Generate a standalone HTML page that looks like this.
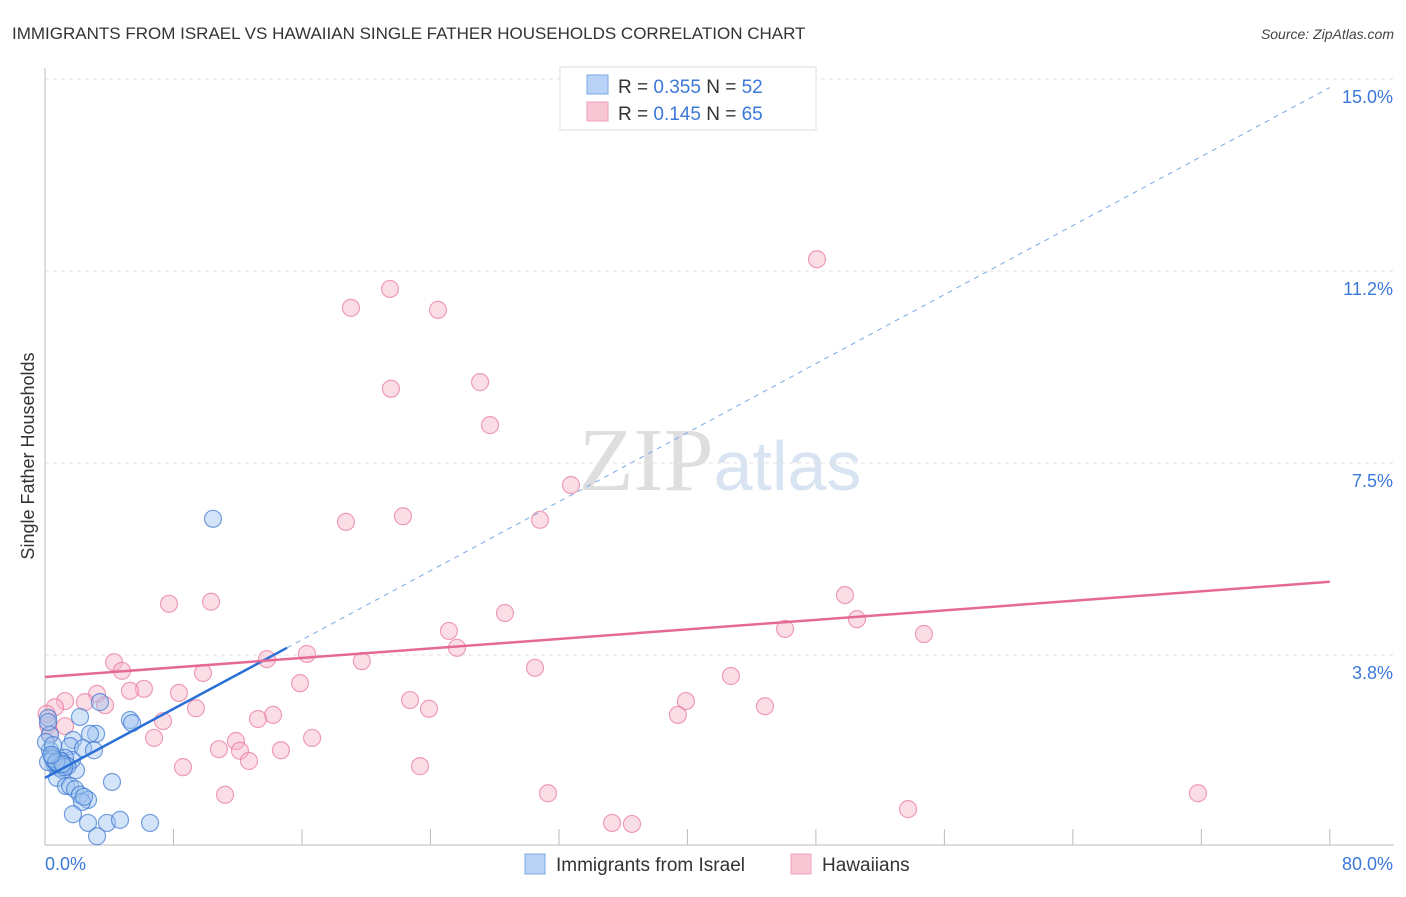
<!DOCTYPE html>
<html><head><meta charset="utf-8"><style>
body{margin:0;background:#fff;font-family:"Liberation Sans",sans-serif;}
svg text{font-family:"Liberation Sans",sans-serif;}
</style></head><body>
<svg id="chart" width="1406" height="892" xmlns="http://www.w3.org/2000/svg">
<text x="12" y="39" font-size="17" fill="#333">IMMIGRANTS FROM ISRAEL VS HAWAIIAN SINGLE FATHER HOUSEHOLDS CORRELATION CHART</text>
<text x="1394" y="39" font-size="14" font-style="italic" fill="#444" text-anchor="end">Source: ZipAtlas.com</text>
<text x="720" y="490" font-size="90" text-anchor="middle" fill="#e8e8e8"><tspan font-family="Liberation Serif" fill="#dedede">ZIP</tspan><tspan fill="#d8e4f2" font-size="70">atlas</tspan></text>
<g id="grid"></g>
<g id="axes"></g>
<g id="pts"></g>
<g id="lines"></g>
<text transform="translate(34,456) rotate(-90)" font-size="18" fill="#333" text-anchor="middle">Single Father Households</text>
<g>
<rect x="560" y="67" width="256" height="63" fill="#fff" stroke="#ddd"/>
<rect x="587" y="75" width="21" height="19" fill="#b8d3f5" stroke="#7aa8e6"/>
<text x="618" y="93" font-size="19" fill="#333">R = <tspan fill="#3b78d8">0.355</tspan>   N = <tspan fill="#3b78d8">52</tspan></text>
<rect x="587" y="102" width="21" height="19" fill="#f9c6d5" stroke="#eea0b8"/>
<text x="618" y="120" font-size="19" fill="#333">R =  <tspan fill="#3b78d8">0.145</tspan>   N = <tspan fill="#3b78d8">65</tspan></text>
</g>
<g>
<rect x="525" y="854" width="20" height="20" fill="#b8d3f5" stroke="#7aa8e6"/>
<text x="556" y="871" font-size="19" fill="#333">Immigrants from Israel</text>
<rect x="791" y="854" width="20" height="20" fill="#f9c6d5" stroke="#eea0b8"/>
<text x="822" y="871" font-size="19" fill="#333">Hawaiians</text>
</g>
</svg>
<script>
const yTicks=[3.75,7.5,11.25,15];
const yTickLabels=["3.8%","7.5%","11.2%","15.0%"];
const xTickCount=10;
const israelX=[10.46,0.19,2.18,3.42,5.29,5.42,3.18,2.8,1.74,1.56,2.37,3.05,0.31,0.31,0.44,0.81,1.06,1.31,0.62,0.93,1.93,1.12,0.75,1.68,4.17,1.31,1.56,1.87,2.18,2.68,2.3,2.43,1.74,2.68,3.86,4.67,6.54,3.24,0.19,0.06,0.5,1.25,0.19,0.68,0.9,1.0,1.4,0.5,1.2,0.7,1.1,0.4];
const israelY=[6.41,2.52,2.54,2.83,2.48,2.42,2.21,2.21,2.09,1.97,1.93,1.89,2.19,1.89,1.76,1.7,1.66,1.6,1.6,1.54,1.5,1.5,1.35,1.7,1.27,1.19,1.19,1.13,1.02,0.92,0.88,0.98,0.64,0.47,0.47,0.53,0.47,0.21,2.44,2.05,1.99,1.74,1.66,1.64,1.62,1.68,1.58,1.72,1.56,1.66,1.62,1.8];
const hawX=[48.07,21.48,19.05,24.47,27.09,21.54,27.71,32.75,22.29,18.74,30.82,7.72,10.34,49.81,28.64,50.56,25.15,46.08,54.73,25.65,16.31,13.82,19.73,4.3,30.51,4.79,9.84,42.71,15.88,6.16,5.29,8.34,3.24,1.25,2.49,3.74,0.62,22.73,39.91,9.4,23.91,44.83,39.41,14.2,13.26,7.35,1.25,6.79,16.63,11.89,10.83,12.14,14.69,12.7,8.59,23.35,11.21,31.32,71.79,53.74,35.31,36.55,0.19,0.3,0.1];
const hawY=[11.48,10.9,10.53,10.49,9.08,8.95,8.24,7.07,6.46,6.35,6.39,4.75,4.79,4.92,4.57,4.45,4.22,4.26,4.16,3.89,3.77,3.67,3.63,3.61,3.5,3.44,3.4,3.34,3.2,3.09,3.05,3.01,2.99,2.85,2.83,2.77,2.73,2.87,2.85,2.71,2.7,2.75,2.58,2.58,2.5,2.46,2.36,2.13,2.13,2.07,1.91,1.88,1.89,1.68,1.56,1.58,1.02,1.05,1.05,0.74,0.47,0.45,2.38,2.2,2.6];
const israelFit=[1.35,3.89,15.07];
const hawFit=[3.32,5.18];
const NS="http://www.w3.org/2000/svg";
const X=v=>45+v*16.06, Y=v=>847-v*51.2;
function mk(tag,attrs,parent){const e=document.createElementNS(NS,tag);for(const k in attrs)e.setAttribute(k,attrs[k]);parent.appendChild(e);return e;}
const grid=document.getElementById('grid'),axes=document.getElementById('axes'),pts=document.getElementById('pts'),lines=document.getElementById('lines');
yTicks.forEach((t,i)=>{
 const l=mk('line',{x1:45,x2:1394,y1:Y(t),y2:Y(t),stroke:'#e2e2e2','stroke-dasharray':'4,4'},grid);
 
 
 const tx=mk('text',{x:1393,y:Y(t)+24,'font-size':18,fill:'#3b78d8','text-anchor':'end'},axes);
 tx.textContent=yTickLabels[i];
 
 
});
const ax=mk('line',{x1:45,x2:1394,y1:845,y2:845,stroke:'#bbb'},axes);


const ay=mk('line',{x1:45,x2:45,y1:68,y2:845,stroke:'#bbb'},axes);


for(let i=1;i<=xTickCount;i++){const t=mk('line',{x1:X(i*8),x2:X(i*8),y1:829,y2:845,stroke:'#bbb'},axes);
 
 }
[["0.0%",45,"start"],["80.0%",1393,"end"]].forEach(a=>{const t=mk('text',{x:a[1],y:870,'font-size':18,fill:'#3b78d8','text-anchor':a[2]},axes);t.textContent=a[0];
 
 });
hawX.forEach((v,i)=>{const c=mk('circle',{cx:X(v),cy:Y(hawY[i]),r:8.5,fill:'rgba(247,180,200,0.45)',stroke:'rgba(232,120,155,0.7)','stroke-width':1.2},pts);
 
 });
israelX.forEach((v,i)=>{const c=mk('circle',{cx:X(v),cy:Y(israelY[i]),r:8.5,fill:'rgba(160,195,240,0.45)',stroke:'rgba(60,120,210,0.7)','stroke-width':1.2},pts);
 
 });
const s=(israelFit[1]-israelFit[0])/israelFit[2];
const d=mk('line',{x1:X(israelFit[2]),y1:Y(israelFit[1]),x2:X(80),y2:Y(israelFit[0]+s*80),stroke:'#7aa8e6','stroke-width':1,'stroke-dasharray':'5,5'},lines);


const b=mk('line',{x1:X(0),y1:Y(israelFit[0]),x2:X(israelFit[2]),y2:Y(israelFit[1]),stroke:'#2a70d6','stroke-width':2.5},lines);


const p=mk('line',{x1:X(0),y1:Y(hawFit[0]),x2:X(80),y2:Y(hawFit[1]),stroke:'#e46a95','stroke-width':2.5},lines);


</script>
</body></html>
